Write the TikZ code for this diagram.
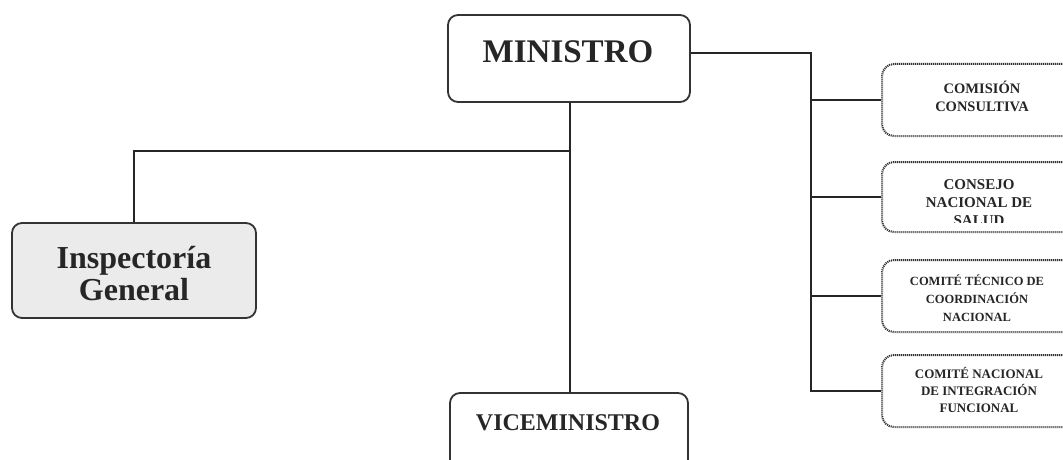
\documentclass[tikz,border=0pt]{standalone}
\usepackage{fontspec}
\setmainfont{Liberation Serif}
\begin{document}
\begin{tikzpicture}[x=1pt,y=-1pt,
  mainbox/.style={draw=black!80, line width=1.8pt, rounded corners=10pt, inner sep=0pt},
  sidebox/.style={draw=black!80, line width=2pt, dash pattern=on 1.1pt off 0.9pt, rounded corners=12pt, inner sep=0pt, minimum width=200pt, minimum height=72pt},
  conn/.style={draw=black!85, line width=1.4pt},
  maintxt/.style={font=\bfseries, text=black!85, inner sep=0pt, anchor=base},
  sidetxt/.style={font=\bfseries, text=black!85, inner sep=0pt, align=center, anchor=base}]
\useasboundingbox (0,0) rectangle (1063,460);
\clip (0,0) rectangle (1063,460);
\fill[white] (0,0) rectangle (1063,460);

% main boxes
\node[mainbox, minimum width=242pt, minimum height=87pt] (min) at (569,58.5) {};
\node[maintxt, font=\bfseries\fontsize{33}{33}\selectfont] at (568,63) {MINISTRO};

\node[mainbox, minimum width=238pt, minimum height=90pt] (vice) at (569,438) {};
\node[maintxt, font=\bfseries\fontsize{24}{24}\selectfont] at (568,430) {VICEMINISTRO};

\node[mainbox, fill=black!8, minimum width=244pt, minimum height=95pt] (insp) at (134,270.5) {};
\node[maintxt, font=\bfseries\fontsize{32}{32}\selectfont] at (134,268) {Inspectoría};
\node[maintxt, font=\bfseries\fontsize{32}{32}\selectfont] at (134,300) {General};

% side boxes
\node[sidebox] (c1) at (982,100) {};
\node[sidebox, minimum height=70pt] (c2) at (982,197) {};
\node[sidebox] (c3) at (982,296) {};
\node[sidebox] (c4) at (982,391) {};

% (base anchor = baseline of the last line)
\node[sidetxt, font=\bfseries\fontsize{14.5}{18}\selectfont] at (982,111) {COMISIÓN\\CONSULTIVA};
\begin{scope}
  \clip (884,163) rectangle (1063,222);
  \node[sidetxt, font=\bfseries\fontsize{15}{18}\selectfont] at (979,225) {CONSEJO\\NACIONAL DE\\SALUD};
\end{scope}
\node[sidetxt, font=\bfseries\fontsize{12.5}{18}\selectfont] at (977,321) {COMITÉ TÉCNICO DE\\COORDINACIÓN\\NACIONAL};
\node[sidetxt, font=\bfseries\fontsize{13}{17}\selectfont] at (979,412) {COMITÉ NACIONAL\\DE INTEGRACIÓN\\FUNCIONAL};

% connectors
\coordinate (jr) at (811,53);
\coordinate (jb) at (811,392);
\coordinate (jl) at (570,151);
\coordinate (ji) at (134,151);
\draw[conn] (min.east |- jr) -- (jr) -- (jb);
\draw[conn] (jr |- c1.west) -- (c1.west);
\draw[conn] (jr |- c2.west) -- (c2.west);
\draw[conn] (jr |- c3.west) -- (c3.west);
\draw[conn] (jr |- c4.west) -- (c4.west);
\draw[conn] (jl |- min.south) -- (jl |- vice.north);
\draw[conn] (jl) -- (ji) -- (insp.north);
\end{tikzpicture}
\end{document}
